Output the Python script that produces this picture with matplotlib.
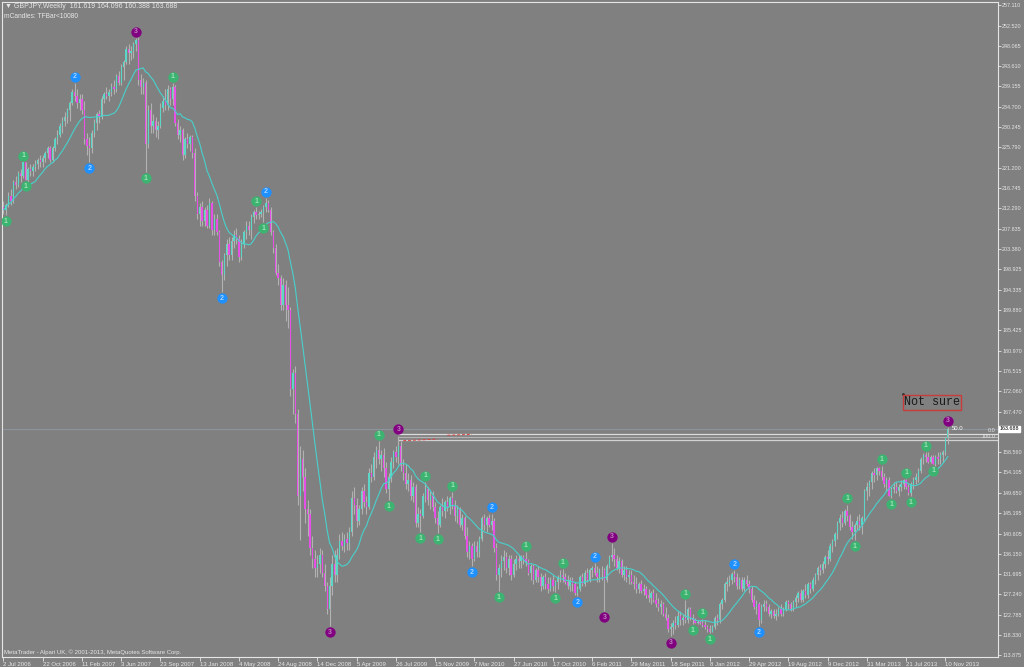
import matplotlib
matplotlib.use('Agg')
import matplotlib.pyplot as plt
import matplotlib.transforms as mtransforms
import numpy as np
import pandas as pd

# GBPJPY weekly, 2 Jul 2006 .. Nov 2013
first_open = 212.5
closes = [
    212, 213, 215, 214, 218, 217.5, 220, 219.5, 222.5, 218.5,
    221, 220.5, 221.5, 222, 223, 222.5, 223.5, 224.5, 225.5, 223,
    225.5, 227.5, 228.5, 230.5, 231.5, 232.5, 234, 235.5, 238, 237,
    235.5, 236.5, 234, 227.5, 226, 225.5, 229, 231, 233, 232.5,
    236.5, 237.5, 237, 238, 239, 238.5, 241.5, 240, 243.5, 244.5,
    247.5, 246.5, 247, 248.5, 249.5, 240.5, 239, 240, 226.5, 234,
    230.5, 231.5, 229.5, 230.5, 234.5, 236, 235, 238.5, 236.5, 239,
    231, 228.5, 229.5, 224, 227.5, 226.5, 228, 224.5, 215, 211,
    212.5, 209.5, 212, 208.5, 213.5, 207.5, 210, 207, 200.5, 197.5,
    202, 204.5, 202, 205, 206.5, 205.5, 201.5, 204.5, 207, 208.5,
    207.5, 210.5, 211.5, 210.8, 211, 211.5, 212.5, 213.5, 212, 207,
    203.5, 198, 197, 191, 195.5, 191, 190, 172.5, 176, 167,
    149, 157, 153, 146, 145, 137.5, 135, 133, 134, 136,
    132, 129, 124, 129, 134, 131.5, 136, 139, 138, 139.5,
    138.5, 141, 148.5, 147, 143.5, 146, 150, 147.5, 146.5, 154,
    153, 157.5, 159, 157, 158, 155, 150.5, 153, 156.5, 158.5,
    157.5, 160, 155.5, 154, 151.5, 152.5, 149, 151, 143, 145,
    144.5, 149, 150.5, 148, 149, 146.5, 144, 142.5, 146.5, 145.5,
    147.5, 146.5, 148.5, 147, 144.5, 146, 142.5, 144, 140, 136.5,
    138, 135, 138, 136.5, 139.5, 144, 142.5, 144, 142.5, 143.5,
    137.5, 131.5, 133, 134.5, 135.5, 133, 135, 131.5, 134, 135,
    134.5, 135.5, 135, 134.5, 132, 133.5, 130.5, 132.5, 131, 129,
    131, 129.5, 128.5, 130.5, 129, 130, 131, 131.5, 131, 130,
    129, 130.5, 129.5, 127.5, 128.5, 131, 129.5, 132, 130.5, 132.5,
    133, 132, 131, 132.5, 132.5, 130.5, 133.5, 135.5, 136, 135,
    133, 134.5, 131.5, 132.5, 131, 131.5, 130, 129.5, 128.5, 129.5,
    128, 128.5, 127, 126.5, 127.5, 126, 125, 124.5, 125, 123,
    122, 119.5, 120, 121, 120.5, 122.5, 121.5, 122, 121.5, 124,
    122, 121.5, 121, 121.2, 121, 120.5, 120, 119.5, 119, 120,
    122, 121.5, 125, 126, 129.5, 130, 130.5, 131.8, 131, 129,
    130.5, 128.5, 130.5, 129.5, 128.5, 126, 124.5, 125, 121.5, 124.5,
    125, 124.5, 123, 123.5, 122.5, 123, 124, 123, 124, 125.5,
    125, 124, 125.5, 126.5, 127.5, 126, 128, 127, 129.5, 128.5,
    130.5, 131.5, 133, 132.5, 134, 135.5, 135, 138, 139, 140.5,
    143, 144, 143, 145.5, 144.5, 142, 141, 142.5, 143.5, 142.5,
    144, 150, 151, 152, 154, 153.5, 155, 154.5, 153, 151.5,
    152.5, 149, 150.5, 151, 150, 151, 151.5, 152.5, 151, 149.5,
    151.5, 152.5, 153, 154.5, 157, 158, 157.5, 156.3, 157.5, 156,
    157.5, 157, 158, 158.5, 161.619, 163.688,
]
highs = [
    214, 213.5, 216, 216.5, 218.5, 219.5, 220.5, 221, 222.5, 222.5,
    221.5, 222, 222, 223, 223.5, 224, 224, 225, 226, 226,
    226, 228, 229.5, 231, 232.5, 233.5, 234.5, 236, 238.5, 239.9,
    238.5, 237.5, 237.5, 236, 229, 228, 229.5, 232, 233.5, 234,
    237, 238, 239, 238.5, 240, 240.5, 241.8, 242.5, 244, 245,
    248, 248.5, 248, 249, 249.8, 250, 242, 241, 240.5, 235,
    235.5, 233, 232.5, 231.5, 235.5, 237, 238.5, 239.5, 239, 239.9,
    239.5, 232, 230.5, 230, 228, 229, 228.5, 228.5, 225.5, 216,
    213.5, 214, 212.5, 213, 214.5, 214, 211, 211, 207.5, 201,
    202.5, 205.5, 206, 206, 207.5, 208, 206.5, 205.5, 207.5, 209.5,
    209.5, 211, 212, 212.5, 211.8, 212.2, 213, 214.6, 214.2, 212.5,
    207.5, 204.5, 200, 197.5, 197, 196.5, 195, 190.5, 177, 177.5,
    168, 160, 159, 155, 148, 146, 140, 137, 136, 137.5,
    137, 134, 130, 131, 136, 137, 137.5, 140.5, 141, 140.5,
    141, 142, 150, 151, 148.5, 147, 151, 151.5, 149, 155,
    156, 158.5, 160, 161, 159, 159.5, 156.5, 154, 157.5, 159,
    160, 162.2, 161, 157, 156, 154, 153.5, 152, 151.5, 146.5,
    146, 149.5, 152, 151, 150, 150, 147.5, 145.5, 147, 148.5,
    148, 149, 149, 149.8, 148, 147, 146.5, 145, 144.5, 142,
    139, 138.5, 139, 139, 140, 144.6, 145, 144.5, 145, 145,
    144, 138.5, 134, 136, 137, 136.5, 136, 136, 135, 136,
    136, 136, 136, 136.6, 135, 134, 134, 133, 133.5, 132,
    131.5, 132, 131, 131, 131.5, 130.5, 131.5, 132.5, 132.8, 132,
    131.5, 131, 131, 130, 129, 131.5, 132, 132.5, 133, 133,
    133.5, 134.1, 133.5, 133, 133.5, 133, 134, 136, 138.6, 137.5,
    136, 135.5, 135, 133.5, 133.5, 132.5, 132.5, 131.5, 131, 130,
    130.5, 129.5, 129, 128.5, 128, 128.5, 127.5, 126.5, 126, 125.5,
    124.5, 123, 121, 121.5, 122.5, 123.5, 123.5, 123, 126, 124.5,
    124.5, 123, 122, 121.5, 121.5, 121.8, 121.5, 120.5, 120.5, 120.5,
    122.5, 123, 125.5, 126.5, 130, 131, 131.5, 132.2, 132.5, 132,
    131, 131, 131, 131.5, 130.5, 129, 127, 126, 125.5, 125,
    126, 126, 125, 124, 124, 124, 124.5, 125, 124.5, 126,
    126, 125.5, 126, 127, 128, 128.5, 128.5, 129.5, 130, 130,
    131, 132, 133.5, 134, 134.5, 136, 137, 138.5, 139.5, 141,
    143.5, 145, 145.5, 146, 147, 145, 143.5, 143, 144.5, 145,
    144.5, 150.5, 152, 152.5, 154.5, 155, 155.2, 155.3, 155.6, 154,
    153, 153, 151, 152, 152, 151.5, 152.5, 152.6, 152.7, 151.5,
    152, 153, 154, 155, 157.5, 158.3, 158.6, 158.5, 158, 158,
    158, 158.5, 158.5, 159, 161.8, 164.096,
]
lows = [
    211, 210.8, 212.5, 213, 213.5, 216.5, 217, 218, 219, 218.5,
    218, 219.5, 219.5, 220.5, 221, 221.5, 221.5, 222.5, 223.5, 222.5,
    222.5, 225, 226.5, 228, 229, 230.5, 231, 231.5, 235, 236,
    234.5, 234, 233, 226.5, 224, 222.5, 224.5, 228, 229.5, 231,
    232, 235.5, 236.5, 236, 237, 237.5, 238, 239.5, 239.5, 240.5,
    244, 244, 245, 245.5, 247, 239.5, 237.5, 237.5, 220.3, 225.5,
    229, 229, 228, 227.5, 230, 233.5, 234, 234, 235, 235,
    230.5, 227.5, 227, 223, 223.5, 225.5, 225, 223.5, 214, 210,
    208.5, 208.5, 208.5, 208, 208, 206.5, 206.5, 206.5, 199.5, 193.9,
    196.5, 199.5, 201, 201, 203.5, 204.5, 200.5, 201, 203.5, 205.5,
    206.5, 205.5, 209, 210, 210, 210.3, 209.3, 211.5, 211.5, 206.5,
    202.5, 197.5, 195.5, 190, 190, 187.5, 186, 171, 167, 165,
    147, 139.3, 150, 143, 140, 136, 133, 131, 131, 132,
    131, 128, 123, 120.3, 127, 130, 130, 135, 137, 136.5,
    137, 137, 140, 145, 142, 142.5, 145, 146.5, 145, 146,
    152, 152.5, 155, 156, 154.5, 153, 149.5, 148, 152, 155,
    156.5, 156, 154.5, 152.5, 150.5, 150, 148, 147.5, 142, 142,
    141, 144, 147.5, 147, 146, 145.5, 143, 140.8, 142, 144.5,
    144, 145.5, 145, 146, 143.5, 143, 142, 141.5, 139.5, 135.5,
    135, 133.5, 134.5, 135.5, 135.5, 139, 141.5, 141, 142, 141.5,
    136.5, 130.5, 128, 131, 132.5, 132, 131.5, 130.5, 131, 132.5,
    133, 133, 134, 133.5, 131.5, 130.5, 129.5, 130, 130, 128,
    128.5, 128.5, 127.5, 128, 128, 127.8, 128.5, 130, 130, 129.5,
    128.5, 128, 128, 127, 126.9, 128, 129, 129, 130, 130,
    131, 131.5, 130, 130, 130.5, 123.6, 130, 133, 134.5, 133.5,
    132.5, 132, 131, 130.5, 130, 129.5, 129.5, 128.5, 127.5, 127.5,
    127.5, 127, 126.5, 125.5, 125, 125.5, 124.5, 123.5, 123, 122.5,
    121.5, 119, 118, 118.5, 119.5, 120, 120.5, 120.5, 121, 121,
    121.5, 120.7, 120.9, 120.8, 120.8, 120, 119.5, 119, 118.7, 119,
    119.5, 120.5, 121, 124, 125.5, 128, 129, 129.5, 130, 128.5,
    128.5, 128, 128, 129, 127.5, 125.5, 124, 123, 120.3, 121,
    123.5, 123.5, 122.5, 122, 122, 121.5, 122.5, 122.5, 122.5, 123.5,
    124, 123.5, 123.5, 124.5, 125.5, 125.5, 125.5, 126.5, 126.5, 127.5,
    128, 129.5, 130.5, 131.5, 132, 133, 134, 134.5, 136.5, 138,
    139.5, 141.5, 142, 142.5, 143.5, 141.5, 139.5, 139.2, 141.5, 141.5,
    140.5, 143.5, 148, 149, 150.5, 152, 152.5, 153.5, 152.5, 151,
    150, 148.8, 148.5, 149.5, 149.5, 149, 150, 150.5, 150.5, 149.2,
    148.9, 150.5, 151.5, 152, 154, 156, 156.5, 156.2, 156.2, 155.9,
    155.5, 156, 156, 156.5, 158, 160.388,
]

# zig-zag labels of the indicator: bar index, number, at high ('h') or low ('l')
marker_idx = [1, 8, 9, 29, 35, 54, 58, 69, 89, 103, 106, 107, 133, 153, 157,
              161, 170, 172, 177, 183, 191, 199, 202, 213, 225, 228, 234,
              241, 245, 248, 272, 278, 281, 285, 288, 298, 308, 344, 347,
              358, 362, 368, 370, 376, 379, 385]
marker_num = ['1', '1', '1', '2', '2', '3', '1', '1', '2', '1', '1', '2', '3',
              '1', '1', '3', '1', '1', '1', '1', '2', '2', '1', '1', '1', '1',
              '2', '2', '3', '3', '3', '1', '1', '1', '1', '2', '2', '1', '1',
              '1', '1', '1', '1', '1', '1', '3']
marker_side = ['l', 'h', 'l', 'h', 'l', 'h', 'l', 'h', 'l', 'h', 'l', 'h', 'l',
               'h', 'l', 'h', 'l', 'h', 'l', 'h', 'l', 'h', 'l', 'h', 'l', 'h',
               'l', 'h', 'l', 'h', 'l', 'h', 'l', 'h', 'l', 'h', 'l', 'h', 'l',
               'h', 'l', 'h', 'l', 'h', 'l', 'h']

date_labels = ['2 Jul 2006', '22 Oct 2006', '11 Feb 2007', '3 Jun 2007',
               '23 Sep 2007', '13 Jan 2008', '4 May 2008', '24 Aug 2008',
               '14 Dec 2008', '5 Apr 2009', '26 Jul 2009', '15 Nov 2009',
               '7 Mar 2010', '27 Jun 2010', '17 Oct 2010', '6 Feb 2011',
               '29 May 2011', '18 Sep 2011', '8 Jan 2012', '29 Apr 2012',
               '19 Aug 2012', '9 Dec 2012', '31 Mar 2013', '21 Jul 2013',
               '10 Nov 2013']
price_ticks = [257.110, 252.520, 248.065, 243.610, 239.155, 234.700, 230.245,
               225.790, 221.200, 216.745, 212.290, 207.835, 203.380, 198.925,
               194.335, 189.880, 185.425, 180.970, 176.515, 172.060, 167.470,
               158.560, 154.105, 149.650, 145.195, 140.605, 136.150, 131.695,
               127.240, 122.785, 118.330, 113.875]

fib_start = 161
fib_levels = [162.57, 162.0, 161.3]
bid = 163.688

BG = '#808080'
FG = '#e6e6e6'
BULL = '#5cd6c6'
BEAR = '#e650e6'
WICK = '#b2b2b2'
MARK = {'1': ('#3cb371', '#9fe0b4'), '2': ('#1e90ff', '#a8d4ff'), '3': ('#800080', '#c080c0')}

plt.rcParams['font.family'] = ['Liberation Sans', 'DejaVu Sans']

fig = plt.figure(figsize=(10.24, 6.67), dpi=100, facecolor=BG)
ax = fig.add_axes([2 / 1024, 10 / 667, 996 / 1024, 655 / 667], facecolor=BG)

o = np.array([first_open] + closes[:-1])
c = np.array(closes)
h = np.maximum(np.array(highs), np.maximum(o, c))
l = np.minimum(np.array(lows), np.minimum(o, c))
idx = np.arange(len(c))
up = c >= o

# bid line and fibo lines
ax.axhline(bid, color='#8f9aa4', lw=0.6, zorder=1)
for lev, col in zip(fib_levels, ['#dcdcdc', '#b4b4b4', '#d2d2d2']):
    ax.hlines(lev, fib_start, 406, color=col, lw=0.9, zorder=1)
ax.plot([163, 177], [161.1, 161.45], color='#d84040', lw=0.7, ls=(0, (3, 2)), zorder=2)
ax.plot([181, 191], [162.3, 162.5], color='#d84040', lw=0.7, ls=(0, (3, 2)), zorder=2)

# candles
ax.vlines(idx, l, h, color=WICK, lw=0.8, zorder=3)
body = np.maximum(np.abs(c - o), 0.2)
ax.bar(idx, body, bottom=np.minimum(o, c), width=0.55,
       color=np.where(up, BULL, BEAR), lw=0, zorder=4)

ma = pd.Series(c).rolling(14, min_periods=1).mean()
ax.plot(idx, ma, color='#48d1cc', lw=0.8, zorder=5)

# numbered markers
up_tr = mtransforms.offset_copy(ax.transData, fig=fig, y=4.5, units='points')
dn_tr = mtransforms.offset_copy(ax.transData, fig=fig, y=-4.5, units='points')
for i, num, side in zip(marker_idx, marker_num, marker_side):
    y = h[i] if side == 'h' else l[i]
    tr = up_tr if side == 'h' else dn_tr
    fc, tc = MARK[num]
    ax.scatter([i], [y], s=55, color=fc, transform=tr, zorder=6, lw=0)
    ax.text(i, y, num, transform=tr, color=tc, fontsize=5, ha='center',
            va='center', zorder=7, fontweight='bold')

ax.text(386.5, 163.75, '50.0', color='white', fontsize=4.3, va='center', zorder=8)
ax.text(404.5, 163.3, '0.0', color=FG, fontsize=4, ha='right', va='center')
ax.text(404.5, 162.0, '100.0', color=FG, fontsize=4, ha='right', va='center')

ax.plot([366.6], [171.4], marker='.', color='#303030', ms=2)
ax.text(367.2, 169.6, 'Not sure', family='Liberation Mono', fontsize=8.5,
        color='#1a1a1a', va='center', ha='left', zorder=8,
        bbox=dict(boxstyle='square,pad=0.12', fc='none', ec='#c83c3c', lw=1))

ax.set_xlim(-0.6, 405.5)
ax.set_ylim(113.43, 257.77)

ax.yaxis.tick_right()
ax.set_yticks(price_ticks)
ax.set_yticklabels([f'{v:.3f}' for v in price_ticks])
ax.set_xticks(np.arange(0, 16 * len(date_labels), 16))
ax.set_xticklabels(date_labels)
for t in ax.get_xticklabels():
    t.set_ha('left')
ax.tick_params(axis='y', length=2, width=0.6, color=FG, labelcolor=FG,
               labelsize=3.9, pad=1.0)
ax.tick_params(axis='x', length=3, width=0.6, color=FG, labelcolor=FG,
               labelsize=4.3, pad=0.8)
for s in ax.spines.values():
    s.set_color(FG)
    s.set_linewidth(0.8)

ax.text(1.002, bid, f'{bid:.3f}', transform=mtransforms.blended_transform_factory(
    ax.transAxes, ax.transData), fontsize=3.9, color='black', va='center',
    ha='left', bbox=dict(boxstyle='square,pad=0.12', fc='white', ec='white'))

fig.text(5 / 1024, 1 - 6 / 667, '\u25bc GBPJPY,Weekly  161.619 164.096 160.388 163.688',
         fontsize=5, color=FG, va='center')
fig.text(4 / 1024, 1 - 16 / 667, 'mCandles: TFBar<10080', fontsize=4.8, color=FG, va='center')
fig.text(4 / 1024, 1 - 652 / 667,
         'MetaTrader - Alpari UK, \u00a9 2001-2013, MetaQuotes Software Corp.',
         fontsize=4.3, color=FG, va='center')

fig.savefig('out.png', dpi=100, facecolor=BG)
